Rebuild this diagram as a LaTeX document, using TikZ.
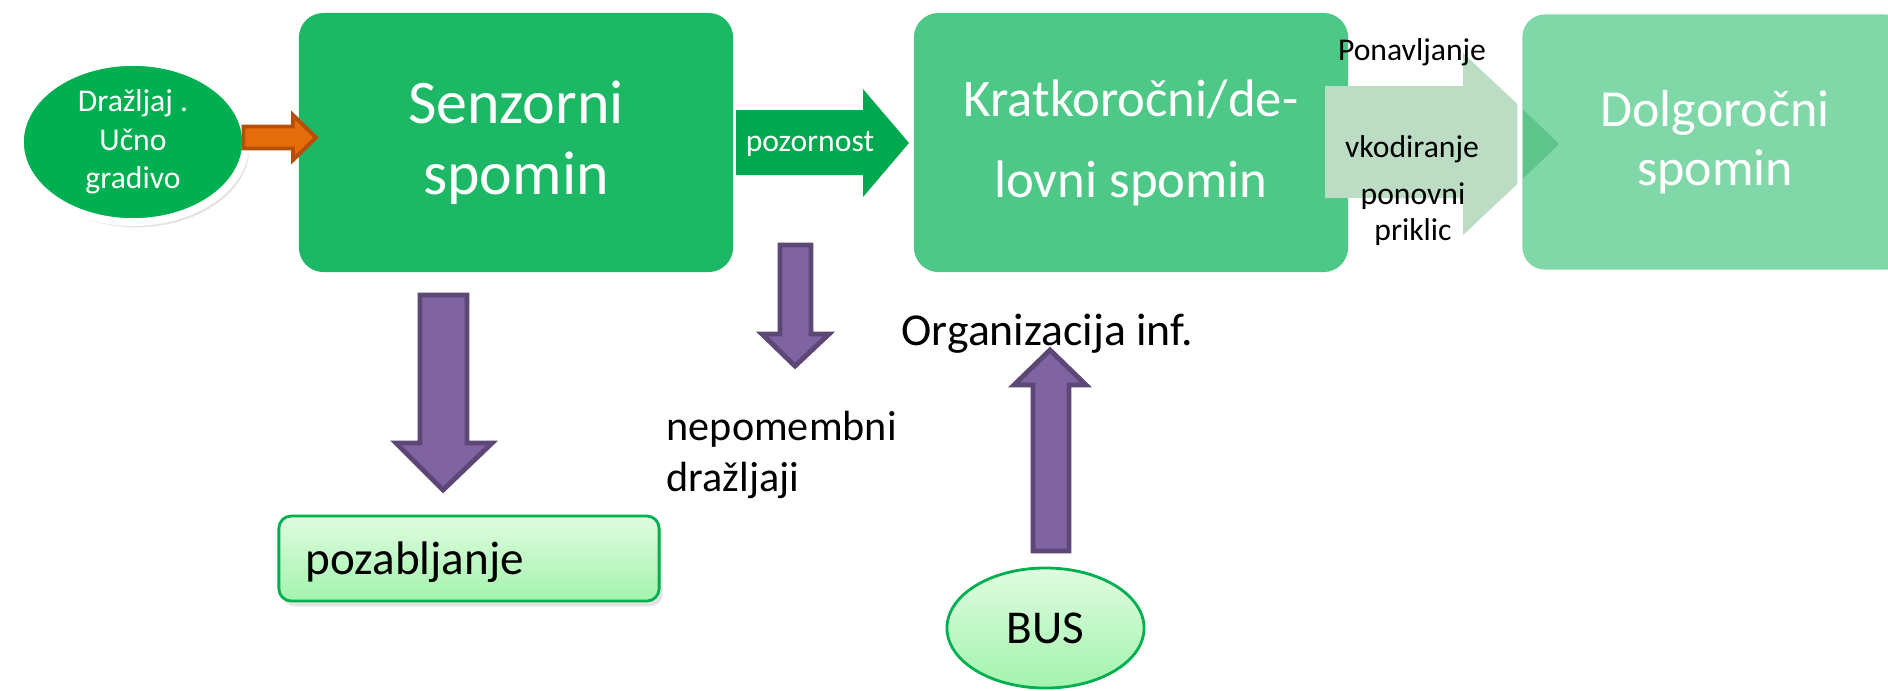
\documentclass[tikz,border=0pt]{standalone}
\usepackage{fontspec}
\setmainfont{Carlito}
\usetikzlibrary{shapes.geometric,shadows}

\definecolor{stimgreen}{RGB}{0,176,80}
\definecolor{senzgreen}{RGB}{29,184,101}
\definecolor{kratgreen}{RGB}{78,200,135}
\definecolor{dolggreen}{RGB}{128,215,168}
\definecolor{attngreen}{RGB}{0,168,79}
\definecolor{rehearse}{RGB}{188,221,196}
\definecolor{overlapgreen}{RGB}{93,196,138}
\definecolor{orangefill}{RGB}{228,108,10}
\definecolor{orangeline}{RGB}{182,80,8}
\definecolor{purplefill}{RGB}{128,100,162}
\definecolor{purpleline}{RGB}{92,71,118}
\definecolor{lighttop}{RGB}{224,252,224}
\definecolor{lightbot}{RGB}{162,243,173}

\tikzset{
	memorybox/.style={rounded corners=7pt, text=white, align=center, inner sep=0pt},
	lightshape/.style={draw=stimgreen, line width=0.8pt, top color=lighttop, bottom color=lightbot},
	softshadow/.style={drop shadow={opacity=0.22, shadow xshift=1pt, shadow yshift=-1.5pt}},
	purplearrow/.style={fill=purplefill, draw=purpleline, line width=1.4pt, line join=miter},
	blacklabel/.style={text=black, inner sep=0pt}
}

\begin{document}
\begin{tikzpicture}[x=0.01cm, y=-0.01cm]
			%%%%% START %%%%%
			\useasboundingbox (0, 0) rectangle (1888, 690);
			\clip (0, 0) rectangle (1888, 690);
			
			% stimulus
			\node[ellipse, fill=stimgreen, draw=white, line width=2.2pt, minimum width=2.26cm, minimum height=1.6cm, inner sep=0pt, text=white, align=center, font=\fontsize{9}{11}\selectfont, softshadow] (drazljaj) at (133, 142) {Dražljaj .\\Učno\\gradivo};
			
			% memory stores
			\node[memorybox, fill=senzgreen, minimum width=4.34cm, minimum height=2.59cm, font=\fontsize{17.6}{20.2}\selectfont] (senzorni) at (516, 142.5) {Senzorni\\spomin};
			\draw[fill=orangefill, draw=orangeline, line width=1.1pt] (243.5, 126.5) -- (293, 126.5) -- (293, 115) -- (316, 137.5) -- (293, 160) -- (293, 148.5) -- (243.5, 148.5) -- cycle;
			
			\draw[fill=attngreen, draw=none] (736, 110) -- (863, 110) -- (863, 89) -- (909, 143) -- (863, 197) -- (863, 175) -- (736, 175) -- cycle;
			\node[text=white, inner sep=0pt, anchor=base, font=\fontsize{9}{11}\selectfont] (pozornost) at (810, 151) {pozornost};
			
			\node[memorybox, fill=kratgreen, minimum width=4.34cm, minimum height=2.59cm, font=\fontsize{15}{23}\selectfont] (kratko) at (1131, 142.5) {Kratkoročni/de-\\lovni spomin};
			
			\draw[fill=rehearse, draw=none] (1325, 86) -- (1463, 86) -- (1463, 53) -- (1560, 144) -- (1463, 235) -- (1463, 198) -- (1325, 198) -- cycle;
			
			\node[memorybox, fill=dolggreen, draw=white, line width=1.4pt, minimum width=3.9cm, minimum height=2.6cm, font=\fontsize{14.8}{16.8}\selectfont] (dolgo) at (1715, 142) {Dolgoročni\\spomin};
			\fill[overlapgreen] (1523, 109.5) -- (1559, 144) -- (1523, 178.5) -- cycle;
			
			\node[blacklabel, anchor=base, font=\fontsize{9}{11}\selectfont] (ponavljanje) at (1412, 60) {Ponavljanje};
			\node[blacklabel, anchor=base, font=\fontsize{9}{11}\selectfont] (vkodiranje) at (1412, 157) {vkodiranje};
			\node[blacklabel, anchor=base, align=center, font=\fontsize{9}{10}\selectfont] (priklic) at (1413, 240) {ponovni\\priklic};
			
			% down / up arrows
			\draw[purplearrow] (420, 295) -- (467, 295) -- (467, 443) -- (492, 443) -- (443, 490) -- (396, 443) -- (420, 443) -- cycle;
			\draw[purplearrow] (780, 245) -- (811, 245) -- (811, 334) -- (829, 334) -- (795, 366) -- (762, 334) -- (780, 334) -- cycle;
			\draw[purplearrow] (1033, 551) -- (1069, 551) -- (1069, 385) -- (1086, 385) -- (1050, 350) -- (1014, 385) -- (1033, 385) -- cycle;
			
			\node[blacklabel, anchor=base west, font=\fontsize{13}{15}\selectfont] (organizacija) at (901, 345) {Organizacija inf.};
			\node[blacklabel, anchor=base west, align=left, font=\fontsize{12}{14.5}\selectfont] (nepomembni) at (666, 491) {nepomembni\\dražljaji};
			
			% forgetting and BUS
			\node[lightshape, rounded corners=3.5pt, minimum width=3.8cm, minimum height=0.85cm, softshadow] (pozabljanje) at (469, 558.5) {};
			\node[blacklabel, anchor=base west, font=\fontsize{13.4}{16}\selectfont] (pozabtext) at (305, 574) {pozabljanje};
			
			\node[ellipse, lightshape, minimum width=1.97cm, minimum height=1.2cm, inner sep=0pt, font=\fontsize{13.4}{16}\selectfont] (bus) at (1045.5, 628) {BUS};
			
			%%%%% END %%%%%
\end{tikzpicture}
\end{document}
